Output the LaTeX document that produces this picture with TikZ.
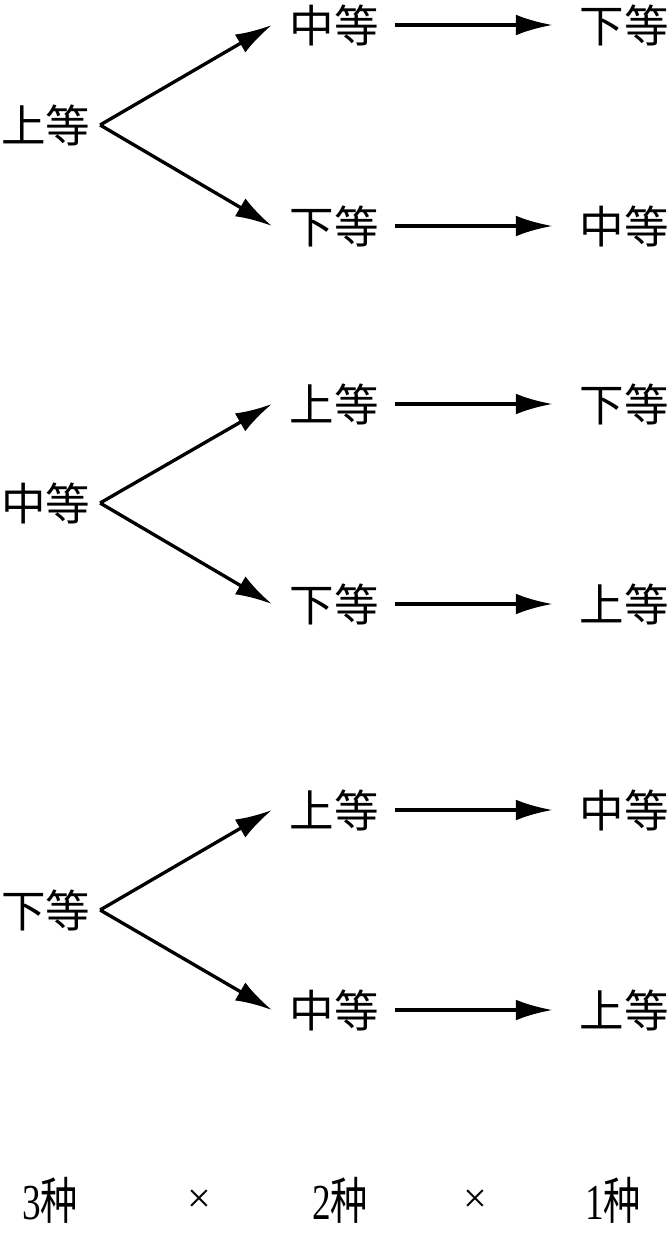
\documentclass[tikz,border=0pt]{standalone}
\usepackage{fontspec}
\setmainfont{Liberation Serif}
\newfontfamily\cjk{Noto Sans CJK SC}
\usetikzlibrary{arrows.meta,positioning}

\begin{document}
\begin{tikzpicture}[x=0.03cm,y=-0.03cm,>=Latex,
  lvl/.style={inner sep=0pt,font=\cjk\fontsize{38}{40}\selectfont},
  cnt/.style={inner sep=0pt,xscale=0.74,font=\fontsize{43}{45}\selectfont},
  mul/.style={inner sep=0pt,font=\fontsize{36}{38}\selectfont},
  arr/.style={-{Latex[length=1.1cm,width=0.62cm]},line width=0.1cm}]
\useasboundingbox (0,0) rectangle (670,1236);
% first pick
\node[lvl] (a1) at (46,125) {上等};
\node[lvl] (a2) at (46,503) {中等};
\node[lvl] (a3) at (46,910) {下等};
% second pick
\node[lvl] (b1) at (334,25) {中等};  \node[lvl] (b2) at (334,226) {下等};
\node[lvl] (b3) at (334,404) {上等}; \node[lvl] (b4) at (334,604) {下等};
\node[lvl] (b5) at (334,810) {上等}; \node[lvl] (b6) at (334,1010) {中等};
% third pick
\node[lvl] (c1) at (624,25) {下等};  \node[lvl] (c2) at (624,226) {中等};
\node[lvl] (c3) at (624,404) {下等}; \node[lvl] (c4) at (624,604) {上等};
\node[lvl] (c5) at (624,810) {中等}; \node[lvl] (c6) at (624,1010) {上等};
% counts
\node[cnt] (n3) at (50,1200) {3{\cjk 种}};
\node[mul] (x1) at (199,1201) {×};
\node[cnt] (n2) at (340,1200) {2{\cjk 种}};
\node[mul] (x2) at (475,1201) {×};
\node[cnt] (n1) at (613,1200) {1{\cjk 种}};
\draw[arr] ([xshift=0.28cm]a1.east)--([xshift=-0.52cm]b1.west); \draw[arr] ([xshift=0.28cm]a1.east)--([xshift=-0.52cm]b2.west);
\draw[arr] ([xshift=0.28cm]a2.east)--([xshift=-0.52cm]b3.west); \draw[arr] ([xshift=0.28cm]a2.east)--([xshift=-0.52cm]b4.west);
\draw[arr] ([xshift=0.28cm]a3.east)--([xshift=-0.52cm]b5.west); \draw[arr] ([xshift=0.28cm]a3.east)--([xshift=-0.52cm]b6.west);
\draw[arr] ([xshift=0.5cm]b1.east)--([xshift=-0.8cm]c1.west); \draw[arr] ([xshift=0.5cm]b2.east)--([xshift=-0.8cm]c2.west);
\draw[arr] ([xshift=0.5cm]b3.east)--([xshift=-0.8cm]c3.west); \draw[arr] ([xshift=0.5cm]b4.east)--([xshift=-0.8cm]c4.west);
\draw[arr] ([xshift=0.5cm]b5.east)--([xshift=-0.8cm]c5.west); \draw[arr] ([xshift=0.5cm]b6.east)--([xshift=-0.8cm]c6.west);
\end{tikzpicture}
\end{document}
